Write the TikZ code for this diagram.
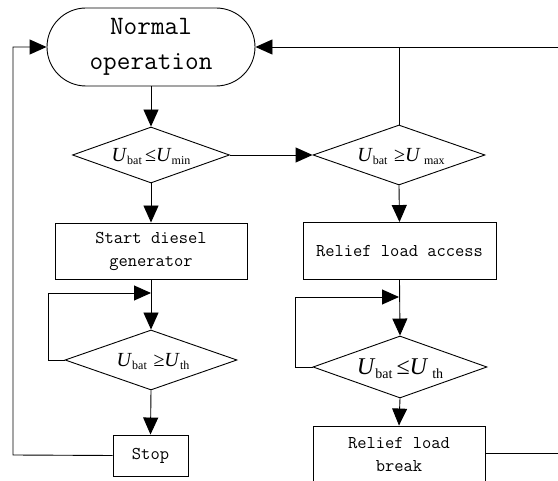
\documentclass[tikz,border=0pt]{standalone}
\usepackage{fontspec}
\setmainfont{Liberation Serif}
\usetikzlibrary{arrows.meta,shapes.geometric}
\newcommand{\sbx}[1]{\raisebox{-3pt}{\fontsize{12}{12}\selectfont #1}}
\newcommand{\sbl}[1]{\raisebox{-4pt}{\fontsize{14}{14}\selectfont #1}}
\begin{document}
\begin{tikzpicture}[x=1pt,y=-1pt, line width=0.9pt,
  arr/.style={-{Triangle[length=17pt,width=15pt]}},
  term/.style={draw, rectangle, rounded corners=39pt, minimum width=208pt, minimum height=78pt, inner sep=0pt, align=center, font=\ttfamily\fontsize{26.5}{35}\selectfont},
  boxnode/.style={draw, rectangle, inner sep=0pt, align=center, font=\ttfamily\fontsize{18}{23}\selectfont},
  dia/.style={draw, diamond, inner sep=0pt},
  condtxt/.style={inner sep=0pt, font=\fontsize{20}{20}\selectfont},
]
\useasboundingbox (0,0) rectangle (558,481);
\clip (0,0) rectangle (558,481);

\node[term] (op) at (151,47) {Normal\\operation};

\node[dia, minimum width=157pt, minimum height=56pt] (d1) at (151,155) {};
\node[condtxt] (t1) at (151,157) {\textit{U}\sbx{bat}\,≤\textit{U}\sbx{min}};

\node[dia, minimum width=172pt, minimum height=60pt] (d2) at (399,155) {};
\node[condtxt] (t2) at (401,157) {\textit{U}\sbx{bat}\,\,≥\textit{U}\,\sbx{max}};

\node[boxnode, minimum width=192pt, minimum height=56pt] (b1) at (151,251) {Start diesel\\generator};
\node[boxnode, minimum width=193pt, minimum height=57pt] (b2) at (399.5,251) {Relief load access};

\node[dia, minimum width=172pt, minimum height=60pt] (d3) at (151,360) {};
\node[condtxt] (t3) at (153,362) {\textit{U}\sbx{bat}\,\,≥\textit{U}\sbx{th}};

\node[dia, minimum width=174pt, minimum height=62pt] (d4) at (400,367) {};
\node[condtxt, font=\fontsize{24}{24}\selectfont] (t4) at (400,369) {\textit{U}\sbl{bat}\,≤\textit{U}\,\sbl{th}};

\node[boxnode, minimum width=75pt, minimum height=41pt] (stop) at (150.5,455.5) {Stop};
\node[boxnode, minimum width=172pt, minimum height=58pt] (brk) at (399,455) {Relief load\\break};

% main flow
\draw[arr] (op.south) -- (d1.north);
\draw[arr] (d1.east) -- (d2.west);
\draw[arr] (d1.south) -- (b1.north);
\draw[arr] (d2.south) -- (b2.north);
\draw[arr] (b1.south) -- (d3.north);
\draw[arr] (b2.south) -- (d4.north);
\draw[arr] (d3.south) -- (stop.north);
\draw[arr] (d4.south) -- (brk.north);

% loops
\coordinate (la) at (48,360);
\coordinate (lb) at (48,293);
\coordinate (lc) at (151,293);
\draw[arr] (d3.west) -- (la) -- (lb) -- (lc);
\coordinate (ra) at (295,367);
\coordinate (rb) at (295,297);
\coordinate (rc) at (399,297);
\draw[arr] (d4.west) -- (ra) -- (rb) -- (rc);

% return from stop
\coordinate (sa) at (13,455);
\coordinate (sb) at (13,47);
\draw[arr] (stop.west) -- (sa) -- (sb) -- (op.west);

% return from relief load break
\coordinate (ba) at (570,453);
\coordinate (bb) at (570,47);
\coordinate (jn) at (399,47);
\draw[arr] (brk.east |- ba) -- (ba) -- (bb) -- (op.east);
\draw (d2.north) -- (jn);
\end{tikzpicture}
\end{document}
